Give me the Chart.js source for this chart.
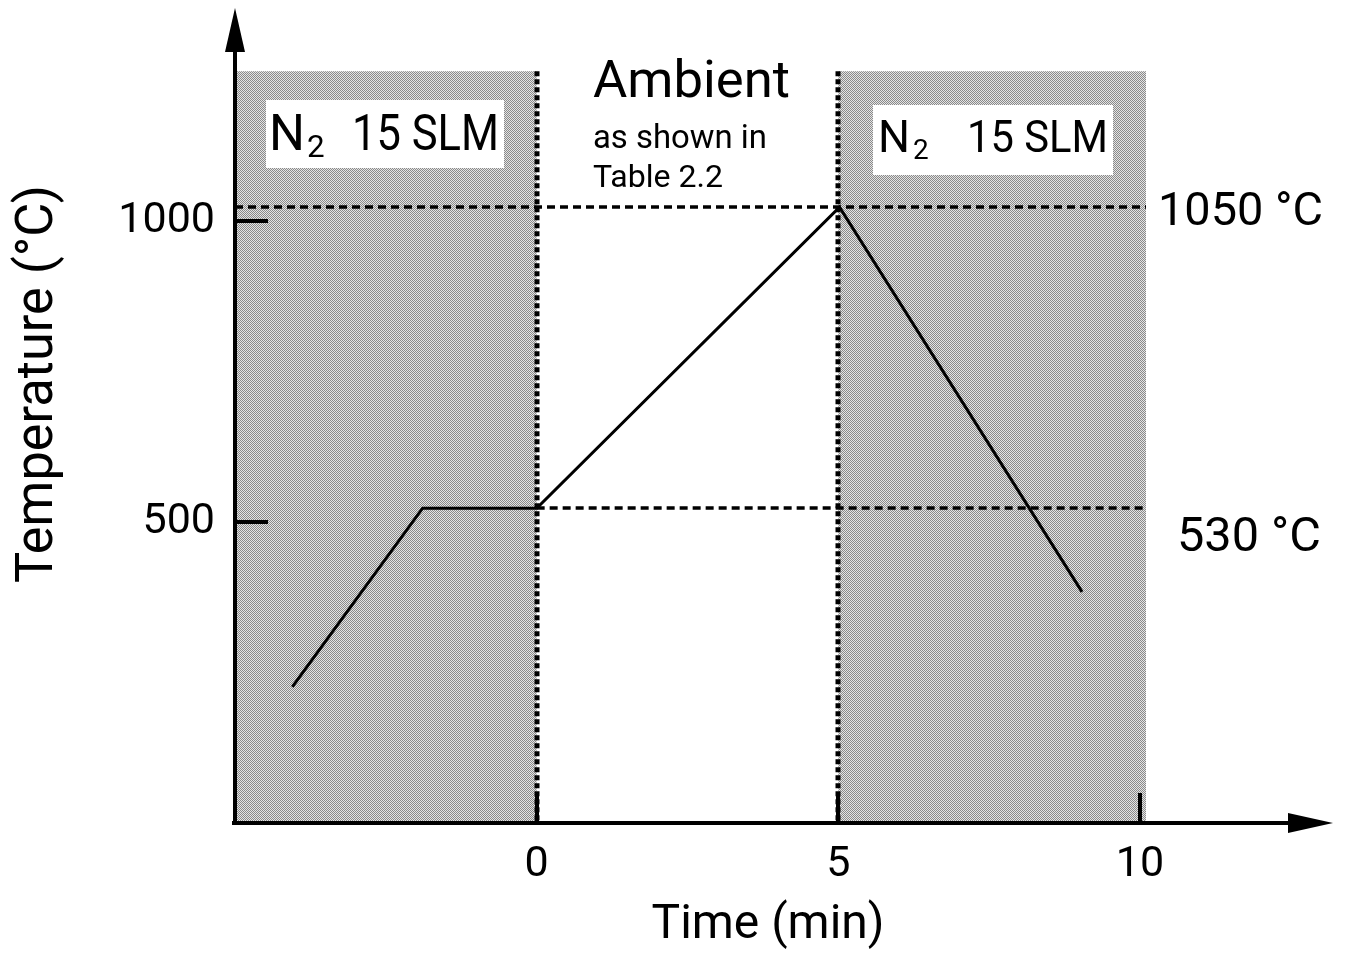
<!DOCTYPE html>
<html><head><meta charset="utf-8">
<script src="https://cdn.jsdelivr.net/npm/chart.js@4/dist/chart.umd.min.js"></script>
<style>html,body{margin:0;padding:0;background:#fff}canvas{display:block}</style>
</head><body>
<canvas id="c" width="1345" height="958"></canvas>
<script>
// ---- data ----
const timeMin = [-4.05, -1.89, 0, 5.02, 9.04];
const tempC   = [226, 523, 523, 1023, 384];
const xTicks = [0, 5, 10];
const yTicks = [500, 1000];
const phaseStart = [-5, 5];
const phaseEnd   = [0, 10.1];
const phaseTop = 1249;
const boundaries = [0, 5];
const levelValues = [1023, 523];
const levelFrom   = [-5, 0];
const levelLabels = ['1050 °C', '530 °C'];
const gasLabel = ['N', '2', '15 SLM'];
const ambientLines = ['Ambient', 'as shown in', 'Table 2.2'];
const xTitle = 'Time (min)';
const yTitle = 'Temperature (°C)';

const FAM = 'Roboto, "DejaVu Sans", sans-serif';
function sizeFor(ctx, text, w){ ctx.font = '100px ' + FAM; return 100 * w / ctx.measureText(text).width; }
function fitText(ctx, text, x, y, w, align){
  const s = sizeFor(ctx, text, w);
  ctx.font = s + 'px ' + FAM; ctx.textAlign = align || 'left'; ctx.fillText(text, x, y); return s;
}
// text with given width and cap height (slight horizontal condensing)
function boxText(ctx, text, x, y, w, capH){
  const s = capH / 0.711;
  ctx.font = s + 'px ' + FAM; ctx.textAlign = 'left';
  const k = w / ctx.measureText(text).width;
  ctx.save(); ctx.translate(x, y); ctx.scale(k, 1); ctx.fillText(text, 0, 0); ctx.restore();
}
const tickSize = 43;

// dither pattern for shaded phases
const pc = document.createElement('canvas'); pc.width = 2; pc.height = 2;
const pctx = pc.getContext('2d');
pctx.fillStyle = '#e4e4e4'; pctx.fillRect(0,0,2,2);
pctx.fillStyle = '#8a8a8a'; pctx.fillRect(0,0,1,1); pctx.fillRect(1,1,1,1);

const noPad = s => { s.paddingTop = 0; s.paddingBottom = 0; s.paddingLeft = 0; s.paddingRight = 0; };

const decor = {
  id: 'decor',
  beforeDatasetsDraw(chart){
    const ctx = chart.ctx, X = chart.scales.x, Y = chart.scales.y;
    ctx.save();
    ctx.fillStyle = ctx.createPattern(pc, 'repeat');
    for (let i = 0; i < phaseStart.length; i++) {
      const x0 = X.getPixelForValue(phaseStart[i]), x1 = X.getPixelForValue(phaseEnd[i]);
      const y0 = Y.getPixelForValue(phaseTop), y1 = Y.getPixelForValue(0);
      ctx.fillRect(x0, y0, x1 - x0, y1 - y0);
    }
    // white label boxes
    ctx.fillStyle = '#fff';
    ctx.fillRect(266, 100, 238, 68);
    ctx.fillRect(873, 105, 240, 70);
    // horizontal level lines
    ctx.strokeStyle = '#000'; ctx.lineWidth = 3.5; ctx.setLineDash([8, 5]);
    for (let i = 0; i < levelValues.length; i++) {
      const y = Math.round(Y.getPixelForValue(levelValues[i]));
      ctx.beginPath(); ctx.moveTo(X.getPixelForValue(levelFrom[i]), y);
      ctx.lineTo(X.getPixelForValue(phaseEnd[1]), y); ctx.stroke();
    }
    // vertical boundaries
    ctx.lineWidth = 5; ctx.setLineDash([5, 3]);
    for (const b of boundaries) {
      const x = Math.round(X.getPixelForValue(b));
      ctx.beginPath(); ctx.moveTo(x, Y.getPixelForValue(phaseTop)); ctx.lineTo(x, Y.getPixelForValue(0)); ctx.stroke();
    }
    ctx.restore();
  },
  afterDatasetsDraw(chart){
    const ctx = chart.ctx, X = chart.scales.x, Y = chart.scales.y, a = chart.chartArea;
    ctx.save();
    ctx.fillStyle = '#000'; ctx.strokeStyle = '#000'; ctx.setLineDash([]);
    const ox = X.getPixelForValue(-5), oy = Y.getPixelForValue(0);
    // axes with arrow heads
    ctx.lineWidth = 4;
    ctx.beginPath(); ctx.moveTo(ox, oy + 2); ctx.lineTo(ox, a.top + 40); ctx.stroke();
    ctx.beginPath(); ctx.moveTo(ox - 3, oy); ctx.lineTo(a.right - 40, oy); ctx.stroke();
    ctx.beginPath(); ctx.moveTo(ox, a.top); ctx.lineTo(ox - 10, a.top + 44); ctx.lineTo(ox + 10, a.top + 44); ctx.closePath(); ctx.fill();
    ctx.beginPath(); ctx.moveTo(a.right + 3, oy); ctx.lineTo(a.right - 42, oy - 10); ctx.lineTo(a.right - 42, oy + 10); ctx.closePath(); ctx.fill();
    // tick marks (inside)
    for (const v of yTicks) { const y = Math.round(Y.getPixelForValue(v)); ctx.beginPath(); ctx.moveTo(ox, y); ctx.lineTo(ox + 33, y); ctx.stroke(); }
    for (const v of xTicks) { const x = Math.round(X.getPixelForValue(v)); ctx.beginPath(); ctx.moveTo(x, oy); ctx.lineTo(x, oy - 30); ctx.stroke(); }
    // texts
    ctx.textBaseline = 'alphabetic';
    // [N left, N width, sub left, label left, label width, baseline, cap height]
    const boxes = [[269, 36, 307, 352, 147, 150, 36], [878, 32, 913, 967, 141, 152, 32]];
    for (const [nx, nw, sx2, lx, lw, by, ch] of boxes) {
      boxText(ctx, gasLabel[0], nx, by, nw, ch);
      ctx.font = (ch * 0.62 / 0.711) + 'px ' + FAM; ctx.textAlign = 'left';
      ctx.fillText(gasLabel[1], sx2, by + 7);
      boxText(ctx, gasLabel[2], lx, by, lw, ch);
    }
    fitText(ctx, ambientLines[0], 593, 97, 197);
    fitText(ctx, ambientLines[1], 593, 148, 174);
    fitText(ctx, ambientLines[2], 593, 187, 130);
    fitText(ctx, levelLabels[0], 1158, 225, 165);
    fitText(ctx, levelLabels[1], 1177, 551, 144);
    // axis titles
    fitText(ctx, xTitle, 768, 938, 233, 'center');
    ctx.translate(52, 384); ctx.rotate(-Math.PI / 2);
    fitText(ctx, yTitle, 0, 0, 398, 'center');
    ctx.restore();
  }
};

new Chart(document.getElementById('c'), {
  type: 'scatter',
  data: { datasets: [{
    data: timeMin.map((t, i) => ({ x: t, y: tempC[i] })),
    showLine: true, borderColor: '#000', borderWidth: 3, pointRadius: 0, tension: 0, fill: false
  }]},
  options: {
    responsive: false, animation: false, devicePixelRatio: 1,
    layout: { padding: { top: 8, right: 15, left: 0, bottom: 0 } },
    plugins: { legend: { display: false }, tooltip: { enabled: false } },
    scales: {
      x: {
        type: 'linear', position: 'bottom', min: -5, max: 13.15,
        afterFit: s => { s.height = 135; noPad(s); },
        afterBuildTicks: s => { s.ticks = xTicks.map(v => ({ value: v })); },
        grid: { display: false, drawTicks: false }, border: { display: false },
        ticks: { autoSkip: false, maxRotation: 0, padding: 16, color: '#000',
                 font: { family: FAM, size: tickSize }, callback: v => String(v) }
      },
      y: {
        type: 'linear', position: 'left', min: 0, max: 1354,
        afterFit: s => { s.width = 235; noPad(s); },
        afterBuildTicks: s => { s.ticks = yTicks.map(v => ({ value: v })); },
        grid: { display: false, drawTicks: false }, border: { display: false },
        ticks: { autoSkip: false, padding: 20, color: '#000',
                 font: { family: FAM, size: tickSize }, callback: v => String(v) }
      }
    }
  },
  plugins: [decor]
});
</script>
</body></html>
